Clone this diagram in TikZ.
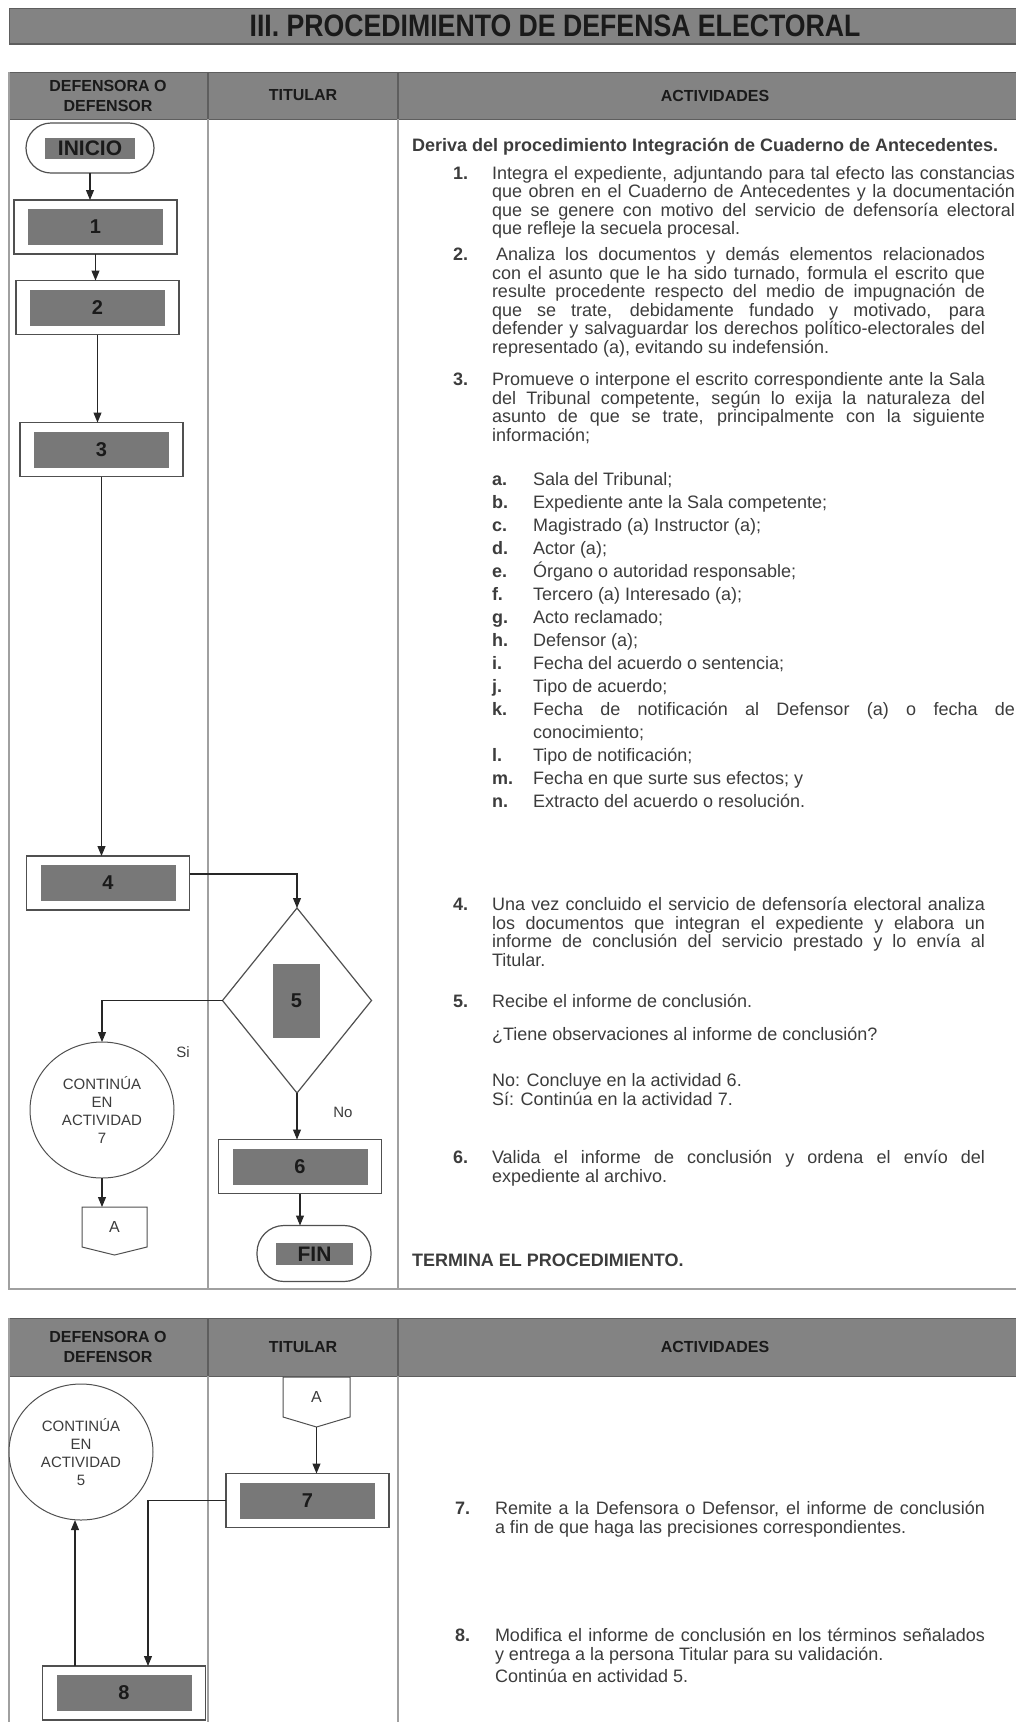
\documentclass[tikz,border=0pt]{standalone}
\usepackage{fontspec}
\usepackage{graphicx}
\setmainfont{Liberation Sans}
\usetikzlibrary{calc,arrows.meta,shapes.geometric}
\definecolor{hdr}{HTML}{838383}
\definecolor{hdrline}{HTML}{5E5E5E}
\definecolor{tline}{HTML}{A0A0A0}
\definecolor{ingray}{HTML}{787878}
\definecolor{txt}{HTML}{3C3C3C}
\definecolor{dark}{HTML}{1A1A1A}
\definecolor{edge}{HTML}{505050}
\tolerance=10000
\hyphenpenalty=10000
\begin{document}
\begin{tikzpicture}[x=1pt,y=-1pt,
  every node/.style={inner sep=0pt, outer sep=0pt},
  outerbox/.style={draw=edge, line width=1.2pt, fill=white, minimum width=163pt, minimum height=54pt},
  innerbox/.style={fill=ingray, minimum width=135pt, minimum height=36pt, font=\fontsize{20}{20}\selectfont\bfseries, text=dark},
  term/.style={draw=edge, line width=1.2pt, fill=white, rounded corners=25pt, minimum width=128pt, minimum height=50pt},
  termin/.style={fill=ingray, minimum width=90pt, minimum height=21pt, font=\fontsize{21}{21}\selectfont\bfseries, text=dark},
  arr/.style={draw=black!85, line width=1.1pt, -{Triangle[length=10pt,width=8pt]}},
  conn/.style={draw=edge, line width=1pt, fill=white, ellipse, minimum width=144pt, minimum height=136pt, align=center, font=\fontsize{15}{18.3}\selectfont, text=txt},
  offp/.style={minimum width=65pt, minimum height=40pt, font=\fontsize{16}{16}\selectfont, text=txt},
  hdrtext/.style={font=\fontsize{16}{20}\selectfont\bfseries, text=dark, align=center},
  body/.style={font=\fontsize{18}{18.5}\selectfont, text=txt, anchor=base west},
  num/.style={font=\fontsize{18}{18.5}\selectfont\bfseries, text=txt, anchor=base west},
  lbl/.style={font=\fontsize{15}{18}\selectfont, text=txt},
]
\useasboundingbox (0,0) rectangle (1015,1722);
% title bar
\fill[hdr] (9,8) rectangle (1020,44);
\draw[hdrline, line width=1pt] (9,44) -- (9,8) -- (1020,8);
\draw[hdrline, line width=1.5pt] (9,44) -- (1020,44);
\node[font=\fontsize{31}{31}\selectfont\bfseries, text=dark] (ttl) at (555,26) {\scalebox{0.86}[1]{III. PROCEDIMIENTO DE DEFENSA ELECTORAL}};

% table 1
\fill[hdr] (9,72) rectangle (1020,119);
\draw[hdrline, line width=1pt] (9,72) -- (1020,72);
\draw[hdrline, line width=1pt] (9,119) -- (1020,119);
\draw[tline, line width=1.8pt] (9,72) -- (9,1289) -- (1020,1289);
\draw[tline, line width=1.5pt] (208,119) -- (208,1289);
\draw[tline, line width=1.5pt] (398,119) -- (398,1289);
\draw[hdrline, line width=1.2pt] (208,72) -- (208,119);
\draw[hdrline, line width=1.2pt] (398,72) -- (398,119);
\node[hdrtext] (h1) at (108,95.5) {DEFENSORA O\\DEFENSOR};
\node[hdrtext] (h2) at (303,95.5) {TITULAR};
\node[hdrtext] (h3) at (715,95.5) {ACTIVIDADES};

% table 2
\fill[hdr] (9,1318) rectangle (1020,1376);
\draw[hdrline, line width=1pt] (9,1318) -- (1020,1318);
\draw[hdrline, line width=1pt] (9,1376) -- (1020,1376);
\draw[tline, line width=1.8pt] (9,1318) -- (9,1722);
\draw[tline, line width=1.5pt] (208,1376) -- (208,1722);
\draw[tline, line width=1.5pt] (398,1376) -- (398,1722);
\draw[hdrline, line width=1.2pt] (208,1318) -- (208,1376);
\draw[hdrline, line width=1.2pt] (398,1318) -- (398,1376);
\node[hdrtext] (h4) at (108,1347) {DEFENSORA O\\DEFENSOR};
\node[hdrtext] (h5) at (303,1347) {TITULAR};
\node[hdrtext] (h6) at (715,1347) {ACTIVIDADES};

% flow part 1
\node[term] (ini) at (90,148) {};
\node[termin] (inii) at (90,148) {INICIO};
\node[outerbox] (b1) at (95.5,227) {};
\node[innerbox] (b1i) at (95.5,227) {1};
\node[outerbox] (b2) at (97.5,307.5) {};
\node[innerbox] (b2i) at (97.5,307.5) {2};
\node[outerbox] (b3) at (101.5,449.5) {};
\node[innerbox] (b3i) at (101.5,449.5) {3};
\node[outerbox] (b4) at (108,883) {};
\node[innerbox] (b4i) at (108,883) {4};
\node[diamond, draw=edge, line width=1.2pt, fill=white, minimum width=149pt, minimum height=185pt] (d5) at (297,1000.5) {};
\node[fill=ingray, minimum width=47pt, minimum height=74pt, font=\fontsize{20}{20}\selectfont\bfseries, text=dark] (d5i) at (296.5,1001) {5};
\node[conn] (c7) at (102,1110) {CONTINÚA\\EN\\ACTIVIDAD\\7};
\node[offp] (pa1) at (114.5,1227) {A};
\draw[edge, line width=1pt] (pa1.north west) -- (pa1.north east) -- (pa1.south east) -- ($(pa1.south)+(0,8)$) -- (pa1.south west) -- cycle;
\node[outerbox] (b6) at (300,1166.5) {};
\node[innerbox] (b6i) at (300,1166.5) {6};
\node[term, minimum width=114pt, minimum height=56pt, rounded corners=27pt] (fin) at (314,1253.5) {};
\node[termin, minimum width=77pt, minimum height=22pt] (fini) at (314.5,1254) {FIN};
\node[lbl] (lsi) at (183,1052) {Si};
\node[lbl] (lno) at (343,1112) {No};

\coordinate (c45) at ($(b4.east)+(0,-9)$);
\draw[arr] (ini.south) -- (ini.south |- b1.north);
\draw[arr] (b1.south) -- (b1.south |- b2.north);
\draw[arr] (b2.south) -- (b2.south |- b3.north);
\draw[arr] (b3.south) -- (b3.south |- b4.north);
\draw[arr] (c45) -| (d5.north);
\draw[arr] (d5.west) -| (c7.north);
\draw[arr] (d5.south) -- (d5.south |- b6.north);
\draw[arr] (b6.south) -- (b6.south |- fin.north);
\draw[arr] (c7.south) -- (c7.south |- pa1.north);

% flow part 2
\node[offp, minimum width=67pt] (pa2) at (316.5,1397) {A};
\draw[edge, line width=1pt] (pa2.north west) -- (pa2.north east) -- (pa2.south east) -- ($(pa2.south)+(0,10)$) -- (pa2.south west) -- cycle;
\coordinate (pa2t) at ($(pa2.south)+(0,10)$);
\node[conn] (c5) at (81,1452) {CONTINÚA\\EN\\ACTIVIDAD\\5};
\node[outerbox] (b7) at (307.5,1500.5) {};
\node[innerbox] (b7i) at (307.5,1500.5) {7};
\node[outerbox] (b8) at (124,1693) {};
\node[innerbox] (b8i) at (124,1693) {8};
\coordinate (c78) at ($(b8.north)+(24,0)$);
\coordinate (c8u) at ($(b8.north)+(-49,0)$);
\draw[arr] (pa2t) -- (pa2t |- b7.north);
\draw[arr] (b7.west) -| (c78);
\draw[arr] (c8u) -- (c8u |- c5.south);

% activity texts, table 1
\node[body] (t0) at (412,151.5) {\bfseries Deriva del procedimiento Integración de Cuaderno de Antecedentes.};
\node[num] (n1) at (453,179) {1.};
\node[body] (t1) at (492,179) {\parbox[t]{523pt}{Integra el expediente, adjuntando para tal efecto las constancias\linebreak que obren en el Cuaderno de Antecedentes y la documentación\linebreak que se genere con motivo del servicio de defensoría electoral\linebreak que refleje la secuela procesal.}};
\node[num] (n2) at (453,260.5) {2.};
\node[body] (t2) at (492,260.5) {\parbox[t]{493pt}{\hspace*{4pt}Analiza los documentos y demás elementos relacionados\linebreak con el asunto que le ha sido turnado, formula el escrito que\linebreak resulte procedente respecto del medio de impugnación de\linebreak que se trate, debidamente fundado y motivado, para\linebreak defender y salvaguardar los derechos político-electorales del\linebreak representado (a), evitando su indefensión.}};
\node[num] (n3) at (453,385.5) {3.};
\node[body] (t3) at (492,385.5) {\parbox[t]{493pt}{Promueve o interpone el escrito correspondiente ante la Sala\linebreak del Tribunal competente, según lo exija la naturaleza del\linebreak asunto de que se trate, principalmente con la siguiente\linebreak información;}};
\node[num, font=\fontsize{18}{23}\selectfont\bfseries] (lla) at (492,485.5) {\parbox[t]{40pt}{a.\\b.\\c.\\d.\\e.\\f.\\g.\\h.\\i.\\j.\\k.\\\mbox{}\\l.\\m.\\n.}};
\node[body, font=\fontsize{18}{23}\selectfont] (llt) at (533,485.5) {\parbox[t]{482pt}{Sala del Tribunal;\\Expediente ante la Sala competente;\\Magistrado (a) Instructor (a);\\Actor (a);\\Órgano o autoridad responsable;\\Tercero (a) Interesado (a);\\Acto reclamado;\\Defensor (a);\\Fecha del acuerdo o sentencia;\\Tipo de acuerdo;\\Fecha de notificación al Defensor (a) o fecha de\linebreak conocimiento;\\Tipo de notificación;\\Fecha en que surte sus efectos; y\\Extracto del acuerdo o resolución.}};
\node[num] (n4) at (453,910.5) {4.};
\node[body] (t4) at (492,910.5) {\parbox[t]{493pt}{Una vez concluido el servicio de defensoría electoral analiza\linebreak los documentos que integran el expediente y elabora un\linebreak informe de conclusión del servicio prestado y lo envía al\linebreak Titular.}};
\node[num] (n5) at (453,1007.5) {5.};
\node[body] (t5) at (492,1007.5) {Recibe el informe de conclusión.};
\node[body] (t5b) at (492,1040.5) {¿Tiene observaciones al informe de conclusión?};
\node[body] (t5c) at (492,1086.5) {\parbox[t]{493pt}{No: Concluye en la actividad 6.\\Sí: Continúa en la actividad 7.}};
\node[num] (n6) at (453,1163.5) {6.};
\node[body] (t6) at (492,1163.5) {\parbox[t]{493pt}{Valida el informe de conclusión y ordena el envío del\linebreak expediente al archivo.}};
\node[body] (tend) at (412,1266.5) {\bfseries TERMINA EL PROCEDIMIENTO.};

% activity texts, table 2
\node[num] (n7) at (455,1514.5) {7.};
\node[body] (t7) at (495,1514.5) {\parbox[t]{490pt}{Remite a la Defensora o Defensor, el informe de conclusión\linebreak a fin de que haga las precisiones correspondientes.}};
\node[num] (n8) at (455,1641.5) {8.};
\node[body] (t8) at (495,1641.5) {\parbox[t]{490pt}{Modifica el informe de conclusión en los términos señalados\linebreak y entrega a la persona Titular para su validación.}};
\node[body] (t8b) at (495,1682.5) {Continúa en actividad 5.};
\end{tikzpicture}
\end{document}
